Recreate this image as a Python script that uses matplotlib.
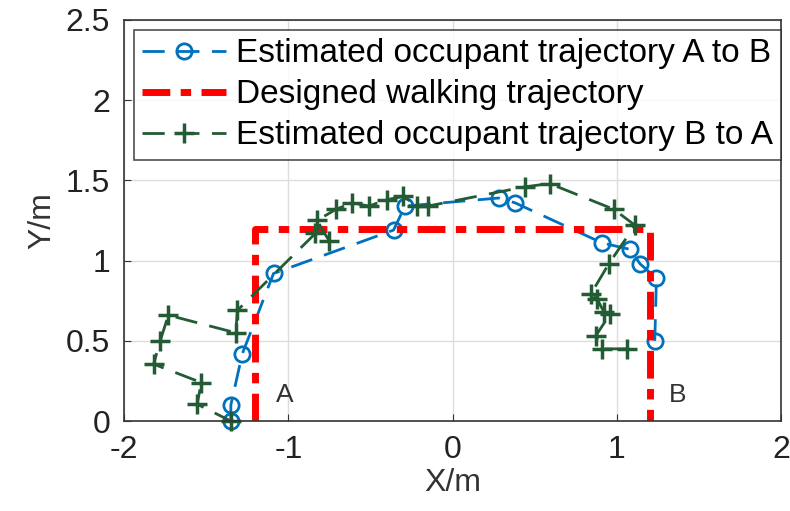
import matplotlib
matplotlib.use("Agg")
import matplotlib.pyplot as plt

plt.rcParams['font.family'] = ['Liberation Sans', 'DejaVu Sans']
plt.rcParams['axes.unicode_minus'] = False

# estimated trajectory A -> B (blue circles)
ab_x = [-1.35, -1.35, -1.28, -1.09, -0.36, -0.29, 0.28, 0.38, 0.91, 1.08, 1.14, 1.24, 1.23]
ab_y = [0.0, 0.10, 0.42, 0.92, 1.19, 1.34, 1.39, 1.36, 1.11, 1.07, 0.98, 0.89, 0.50]

# designed walking path
design_x = [-1.2, -1.2, 1.2, 1.2]
design_y = [0.0, 1.2, 1.2, 0.0]

# estimated trajectory B -> A (green plus)
ba_x = [1.06, 0.91, 0.87, 0.96, 0.92, 0.88, 0.84, 0.95, 1.11, 0.98, 0.59, 0.44,
        -0.15, -0.215, -0.30, -0.40, -0.51, -0.61, -0.71, -0.825, -0.75, -0.835,
        -1.31, -1.32, -1.73, -1.78, -1.82, -1.53, -1.555, -1.35]
ba_y = [0.45, 0.45, 0.53, 0.67, 0.68, 0.76, 0.79, 0.98, 1.22, 1.32, 1.48, 1.46,
        1.34, 1.34, 1.40, 1.38, 1.34, 1.36, 1.32, 1.25, 1.12, 1.17,
        0.69, 0.55, 0.66, 0.50, 0.355, 0.24, 0.105, 0.0]

blue = '#0072BD'
green = '#235B35'

fig = plt.figure(figsize=(7.9, 5.11), dpi=100)
ax = fig.add_axes([0.157, 0.176, 0.832, 0.785])

ax.plot(ab_x, ab_y, linestyle=(0, (8, 4.5)), color=blue, lw=2, marker='o',
        ms=11, mfc='none', mew=2, clip_on=False,
        label='Estimated occupant trajectory A to B')
ax.plot(design_x, design_y, linestyle=(0, (4, 1.5, 1.5, 1.5)), color='red', lw=5,
        label='Designed walking trajectory')
ax.plot(ba_x, ba_y, linestyle=(0, (8, 4.5)), color=green, lw=2, marker='+',
        ms=15, mew=2.5, clip_on=False,
        label='Estimated occupant trajectory B to A')

ax.text(-1.02, 0.16, 'A', fontsize=19, ha='center', va='center', color='#333333')
ax.text(1.37, 0.16, 'B', fontsize=19, ha='center', va='center', color='#333333')

ax.set_xlim(-2, 2)
ax.set_ylim(0, 2.5)
ax.set_xticks([-2, -1, 0, 1, 2])
ax.set_yticks([0, 0.5, 1, 1.5, 2, 2.5])
ax.set_yticklabels(['0', '0.5', '1', '1.5', '2', '2.5'])
ax.grid(True, color='#dddddd', lw=1)
ax.set_axisbelow(True)
ax.tick_params(direction='in', labelsize=23, length=5, color='#333333', pad=10,
               labelcolor='#222222')
for s in ax.spines.values():
    s.set_color('#333333')
    s.set_linewidth(1.2)
ax.set_xlabel('X/m', fontsize=23, color='#333333', labelpad=2)
ax.set_ylabel('Y/m', fontsize=23, color='#333333', labelpad=6)

leg = ax.legend(loc='upper left', bbox_to_anchor=(0.0, 1.0), fontsize=24,
                frameon=True, fancybox=False, edgecolor='#222222',
                handlelength=2.5, handletextpad=0.3, borderpad=0.25,
                labelspacing=0.3, borderaxespad=0.3)
leg.get_frame().set_linewidth(1.2)

fig.savefig('out.png', dpi=100)
